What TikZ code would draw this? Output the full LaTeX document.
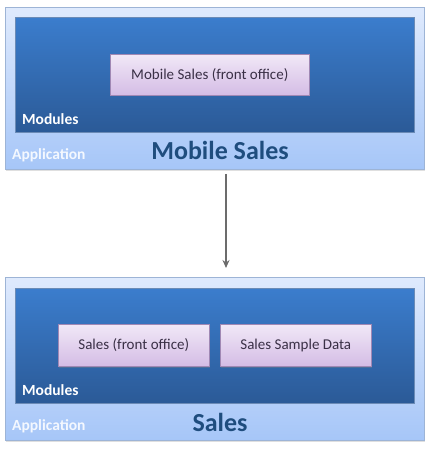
\documentclass[tikz,border=0pt]{standalone}
\usepackage{fontspec}
\setmainfont{Carlito}
\usetikzlibrary{arrows.meta,shadows}
\definecolor{appline}{HTML}{9DB4D6}
\definecolor{apptop}{HTML}{DFEAFD}
\definecolor{appbot}{HTML}{A6C6F8}
\definecolor{modtop}{HTML}{3B7DCD}
\definecolor{modbot}{HTML}{2B5A97}
\definecolor{boxtop}{HTML}{F1E8F7}
\definecolor{boxbot}{HTML}{D4BCE5}
\definecolor{boxline}{HTML}{A088B4}
\definecolor{boxtext}{HTML}{3A3046}
\definecolor{titletext}{HTML}{1F4D7E}
\definecolor{applabel}{HTML}{F4F8FF}
\tikzset{
 appbox/.style={draw=appline,line width=0.8pt,top color=apptop,bottom color=appbot,
  anchor=north west,inner sep=0pt,drop shadow={opacity=0.25,shadow xshift=1pt,shadow yshift=-1.5pt}},
 modarea/.style={draw=modbot!70!white,line width=0.4pt,top color=modtop,bottom color=modbot,
  anchor=north west,inner sep=0pt,drop shadow={opacity=0.3,shadow xshift=0.8pt,shadow yshift=-1.2pt}},
 modbox/.style={draw=boxline,line width=0.6pt,top color=boxtop,bottom color=boxbot,
  anchor=north west,inner sep=0pt,text=boxtext,font=\fontsize{15}{17}\selectfont,
  drop shadow={opacity=0.35,shadow xshift=1pt,shadow yshift=-1.2pt}},
 lbl/.style={anchor=west,inner sep=0pt,font=\bfseries\fontsize{15.5}{17}\selectfont},
 title/.style={inner sep=0pt,text=titletext,font=\bfseries\fontsize{26}{30}\selectfont}
}
\begin{document}
\begin{tikzpicture}[x=1pt,y=-1pt]
 \useasboundingbox[fill=white] (0,0) rectangle (429,449);
 % upper application
 \node[appbox,minimum width=419pt,minimum height=162pt] (mobapp) at (5,7) {};
 \node[modarea,minimum width=399pt,minimum height=115pt] (mobmods) at (15,17) {};
 \node[modbox,minimum width=199pt,minimum height=41pt] (mobfront) at (110,54) {Mobile Sales (front office)};
 \node[lbl,text=white] (mobmodlbl) at (22,119) {Modules};
 \node[lbl,text=applabel] (mobapplbl) at (12,155.5) {Application};
 \node[title] (mobtitle) at (220,150) {Mobile Sales};
 % lower application
 \node[appbox,minimum width=419pt,minimum height=163pt] (salapp) at (5,277) {};
 \node[modarea,minimum width=399pt,minimum height=115pt] (salmods) at (15,288) {};
 \node[modbox,minimum width=151pt,minimum height=42pt] (salfront) at (58,324) {Sales (front office)};
 \node[modbox,minimum width=151pt,minimum height=42pt] (salsample) at (220,324) {Sales Sample Data};
 \node[lbl,text=white] (salmodlbl) at (22,390) {Modules};
 \node[lbl,text=applabel] (salapplbl) at (12,426.5) {Application};
 \node[title] (saltitle) at (220,422) {Sales};
 % dependency
 \draw[-{Stealth[length=8pt,width=7pt]},draw=gray!85!black,line width=1.4pt,shorten <=4pt,shorten >=9pt]
  (mobapp.south-|226,0) -- (salapp.north-|226,0);
\end{tikzpicture}
\end{document}
